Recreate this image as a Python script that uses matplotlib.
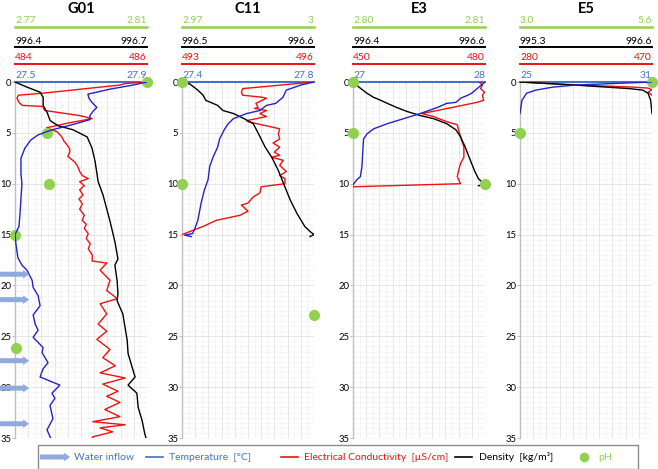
import matplotlib
matplotlib.use('Agg')
import matplotlib.pyplot as plt
import matplotlib.transforms as mtransforms
from matplotlib.patches import FancyArrowPatch, Rectangle
from matplotlib.lines import Line2D
from matplotlib.ticker import MultipleLocator
import numpy as np

plt.rcParams['font.family'] = ['Lato', 'DejaVu Sans']

# ---------------- data ----------------
sites = ['G01', 'C11', 'E3', 'E5']

# G01
g01_ph_range = [2.77, 2.81];      g01_ph_labels = ['2.77', '2.81']
g01_dens_range = [996.4, 996.7];  g01_dens_labels = ['996.4', '996.7']
g01_ec_range = [484, 486];        g01_ec_labels = ['484', '486']
g01_temp_range = [27.5, 27.9];    g01_temp_labels = ['27.5', '27.9']
g01_temp_depth = [0, 0.3, 0.7, 1.2, 1.6, 2.0, 2.5, 2.9, 3.3, 3.7, 4.2, 4.7, 5.2, 5.7, 6.5, 7.5, 9.0, 10.0,
                  11.5, 13.0, 14.2, 15.0, 16.0, 17.3, 18.0, 18.5, 19.5, 20.2, 21.0, 22.0, 22.9, 23.8, 24.4,
                  25.1, 26.1, 26.6, 27.6, 28.2, 29.0, 29.8, 30.6, 31.1, 31.8, 33.1, 34.2, 35.3]
g01_temp = [27.900, 27.858, 27.788, 27.721, 27.724, 27.733, 27.748, 27.736, 27.727, 27.727, 27.673, 27.612,
            27.570, 27.548, 27.530, 27.518, 27.518, 27.521, 27.518, 27.515, 27.512, 27.500, 27.503, 27.509,
            27.521, 27.536, 27.552, 27.555, 27.570, 27.576, 27.555, 27.561, 27.570, 27.555, 27.585, 27.582,
            27.600, 27.585, 27.576, 27.636, 27.612, 27.621, 27.606, 27.615, 27.597, 27.612]
g01_ec_depth = [0, 0.15, 0.3, 1.1, 1.3, 1.6, 2.0, 2.3, 2.4, 2.8, 3.3, 3.6, 4.0, 4.5, 4.9, 5.4, 5.8, 6.2, 6.6,
                6.9, 7.3, 7.9, 8.3, 8.8, 9.2, 9.5, 9.8, 10.2, 10.6, 11.1, 11.5, 12.0, 12.5, 13.1, 13.6, 14.0,
                14.4, 14.9, 15.4, 15.9, 16.4, 17.0, 17.6, 17.8, 18.5, 19.5, 20.5, 21.3, 21.8, 22.8, 23.8,
                24.5, 25.3, 26.3, 27.1, 27.9, 28.6, 29.1, 29.7, 30.4, 30.9, 31.5, 32.2, 32.9, 33.4, 33.7,
                34.0, 34.4, 34.9, 35.3]
g01_ec = [486.00, 485.67, 485.59, 484.42, 484.05, 484.03, 484.06, 484.11, 484.42, 484.45, 484.98, 485.17,
          484.83, 484.48, 484.64, 484.71, 484.74, 484.79, 484.83, 484.83, 484.80, 484.91, 484.95, 484.98,
          485.02, 485.11, 484.98, 485.05, 484.98, 485.03, 484.97, 485.02, 484.98, 485.05, 485.02, 485.08,
          485.05, 485.11, 485.08, 485.14, 485.11, 485.17, 485.17, 485.39, 485.29, 485.44, 485.39, 485.55,
          485.29, 485.39, 485.26, 485.39, 485.24, 485.44, 485.33, 485.52, 485.29, 485.67, 485.33, 485.56,
          485.39, 485.59, 485.36, 485.59, 485.18, 485.67, 485.29, 485.48, 485.17, 485.18]
g01_dens_depth = [0, 0.5, 1.0, 1.5, 2.3, 3.0, 3.8, 4.3, 4.7, 5.4, 6.5, 7.8, 9.8, 11.1, 13.7, 15.7, 17.4,
                  18.0, 19.5, 20.8, 21.5, 22.8, 24.1, 25.4, 26.7, 28.3, 29.0, 29.8, 30.6, 32.0, 33.3, 34.6, 35.3]
g01_dens = [996.400, 996.427, 996.457, 996.464, 996.464, 996.473, 996.480, 996.498, 996.532, 996.564,
            996.575, 996.582, 996.589, 996.600, 996.616, 996.627, 996.634, 996.627, 996.632, 996.634,
            996.632, 996.645, 996.650, 996.655, 996.657, 996.668, 996.673, 996.657, 996.677, 996.680,
            996.689, 996.695, 996.700]
g01_ph_depth = [0, 5, 10, 15, 26.2]
g01_ph = [2.81, 2.7797, 2.7803, 2.77, 2.7703]
g01_inflow_depth = [18.9, 21.4, 27.4, 30.1, 33.6]

# C11
c11_ph_range = [2.97, 3.0];       c11_ph_labels = ['2.97', '3']
c11_dens_range = [996.5, 996.6];  c11_dens_labels = ['996.5', '996.6']
c11_ec_range = [493, 496];        c11_ec_labels = ['493', '496']
c11_temp_range = [27.4, 27.8];    c11_temp_labels = ['27.4', '27.8']
c11_temp_depth = [0, 0.3, 0.8, 1.5, 2.1, 2.3, 2.8, 3.1, 3.6, 4.1, 4.7, 5.6, 6.4, 7.4, 8.3, 9.6, 10.6, 11.9,
                  13.6, 14.5, 14.9, 15.05, 15.2]
c11_temp = [27.800, 27.760, 27.716, 27.706, 27.684, 27.656, 27.636, 27.596, 27.556, 27.540, 27.528, 27.514,
            27.508, 27.494, 27.484, 27.479, 27.468, 27.458, 27.448, 27.438, 27.432, 27.408, 27.428]
c11_ec_depth = [0, 0.65, 1.0, 1.3, 1.5, 1.6, 2.1, 2.5, 2.6, 2.8, 3.1, 3.4, 3.8, 3.9, 4.6, 5.1, 5.6, 6.0, 6.4,
                6.9, 7.2, 7.4, 7.7, 8.2, 8.8, 9.2, 9.5, 10.0, 10.3, 10.9, 11.3, 11.9, 12.1, 12.7, 13.1, 13.6,
                14.2, 15.0]
c11_ec = [496.00, 494.38, 494.35, 494.38, 494.83, 494.92, 494.68, 494.73, 494.65, 494.92, 494.77, 494.92,
          494.47, 494.50, 495.22, 495.19, 495.22, 495.07, 495.22, 495.10, 495.22, 495.04, 495.30, 495.22,
          495.37, 495.22, 495.34, 495.34, 494.80, 494.77, 494.62, 494.50, 494.35, 494.50, 494.32, 493.78,
          493.48, 493.00]
c11_dens_depth = [0, 0.2, 0.8, 1.3, 1.8, 2.3, 2.8, 3.1, 3.6, 4.1, 5.1, 6.4, 7.4, 8.7, 10.0, 11.6, 12.9, 14.2,
                  14.7, 15.0, 15.2]
c11_dens = [996.500, 996.506, 996.512, 996.516, 996.518, 996.527, 996.531, 996.539, 996.547, 996.554,
            996.558, 996.563, 996.568, 996.573, 996.577, 996.582, 996.587, 996.593, 996.597, 996.600, 996.597]
c11_ph_depth = [0, 10, 22.9]
c11_ph = [2.97, 2.97, 3.0]

# E3
e3_ph_range = [2.80, 2.81];       e3_ph_labels = ['2.80', '2.81']
e3_dens_range = [996.4, 996.6];   e3_dens_labels = ['996.4', '996.6']
e3_ec_range = [450, 480];         e3_ec_labels = ['450', '480']
e3_temp_range = [27, 28];         e3_temp_labels = ['27', '28']
e3_temp_depth = [0, 0.65, 1.1, 1.3, 1.6, 2.0, 2.1, 2.5, 3.1, 3.6, 4.1, 4.6, 5.1, 5.6, 6.4, 8.3, 9.3, 9.6, 10.1]
e3_temp = [28.0, 27.94, 27.90, 27.87, 27.815, 27.78, 27.71, 27.64, 27.51, 27.385, 27.26, 27.157, 27.106,
           27.08, 27.076, 27.068, 27.056, 27.03, 27.0]
e3_ec_depth = [0, 0.3, 0.65, 1.0, 1.3, 1.8, 2.0, 2.8, 3.1, 3.4, 3.9, 4.2, 4.7, 5.4, 6.4, 7.4, 8.0, 8.7, 9.3,
               9.6, 10.0, 10.3]
e3_ec = [478.65, 479.4, 479.0, 479.9, 479.4, 479.7, 478.2, 469.2, 465.6, 468.3, 471.3, 473.7, 474.0,
         474.45, 475.2, 475.2, 474.45, 474.0, 473.7, 474.0, 474.45, 450.0]
e3_dens_depth = [0, 0.5, 1.1, 1.5, 1.8, 2.1, 2.5, 2.9, 3.3, 3.6, 4.1, 4.7, 5.4, 6.4, 7.4, 8.7, 9.5, 10.0,
                 10.05, 10.2]
e3_dens = [996.400, 996.409, 996.421, 996.431, 996.442, 996.452, 996.466, 996.482, 996.502, 996.522,
           996.542, 996.556, 996.563, 996.570, 996.576, 996.584, 996.590, 996.598, 996.600, 996.590]
e3_ph_depth = [0, 5, 10]
e3_ph = [2.80, 2.80, 2.81]

# E5
e5_ph_range = [3.0, 5.6];         e5_ph_labels = ['3.0', '5.6']
e5_dens_range = [995.3, 996.6];   e5_dens_labels = ['995.3', '996.6']
e5_ec_range = [280, 470];         e5_ec_labels = ['280', '470']
e5_temp_range = [25, 31];         e5_temp_labels = ['25', '31']
e5_temp_depth = [0, 0.15, 0.3, 0.5, 0.8, 1.1, 1.8, 3.1]
e5_temp = [31.0, 29.2, 27.52, 26.5, 25.72, 25.3, 25.09, 25.0]
e5_ec_depth = [0, 0.1, 0.3, 0.5, 0.6, 0.75, 1.0, 1.3]
e5_ec = [280, 308.5, 365.5, 441.5, 464.3, 470, 464.3, 470]
e5_dens_depth = [0, 0.33, 0.65, 0.8, 1.1, 1.8, 3.1]
e5_dens = [995.3, 995.885, 996.379, 996.509, 996.561, 996.587, 996.6]
e5_ph_depth = [0, 5]
e5_ph = [5.6, 3.0]

depth_ticks = [0, 5, 10, 15, 20, 25, 30, 35]
legend_labels = ['Water inflow', 'Temperature  [°C]', 'Electrical Conductivity  [µS/cm]',
                 'Density  [kg/m³]', 'pH']

panels = [
    dict(temp=(g01_temp_depth, g01_temp, g01_temp_range, g01_temp_labels),
         ec=(g01_ec_depth, g01_ec, g01_ec_range, g01_ec_labels),
         dens=(g01_dens_depth, g01_dens, g01_dens_range, g01_dens_labels),
         ph=(g01_ph_depth, g01_ph, g01_ph_range, g01_ph_labels), inflow=g01_inflow_depth),
    dict(temp=(c11_temp_depth, c11_temp, c11_temp_range, c11_temp_labels),
         ec=(c11_ec_depth, c11_ec, c11_ec_range, c11_ec_labels),
         dens=(c11_dens_depth, c11_dens, c11_dens_range, c11_dens_labels),
         ph=(c11_ph_depth, c11_ph, c11_ph_range, c11_ph_labels), inflow=[]),
    dict(temp=(e3_temp_depth, e3_temp, e3_temp_range, e3_temp_labels),
         ec=(e3_ec_depth, e3_ec, e3_ec_range, e3_ec_labels),
         dens=(e3_dens_depth, e3_dens, e3_dens_range, e3_dens_labels),
         ph=(e3_ph_depth, e3_ph, e3_ph_range, e3_ph_labels), inflow=[]),
    dict(temp=(e5_temp_depth, e5_temp, e5_temp_range, e5_temp_labels),
         ec=(e5_ec_depth, e5_ec, e5_ec_range, e5_ec_labels),
         dens=(e5_dens_depth, e5_dens, e5_dens_range, e5_dens_labels),
         ph=(e5_ph_depth, e5_ph, e5_ph_range, e5_ph_labels), inflow=[]),
]

# ---------------- style ----------------
C_TEMP = '#2323c8'
C_TEMP_LBL = '#4472c4'
C_EC = '#ee1111'
C_DENS = '#000000'
C_PH = '#92d050'
C_ARROW = '#8faadc'

W, H = 658, 469
fig = plt.figure(figsize=(W / 100, H / 100), dpi=100)

def fx(px):
    return px / W

TOP, BOT = 82, 438
AXW = 132
lefts = [15, 182, 353, 520]
axh = BOT - TOP

def yax(py):  # figure pixel row -> axes fraction
    return (BOT - py) / axh

level_ph, level_dens, level_ec = yax(27), yax(47), yax(64)

for i, p in enumerate(panels):
    ax = fig.add_axes([fx(lefts[i]), 1 - BOT / H, fx(AXW), axh / H])
    tdep, tval, trng, tlab = p['temp']
    ax.set_xlim(*trng)
    ax.set_ylim(35, 0)
    ax.set_xticks(np.linspace(trng[0], trng[1], 11))
    ax.set_xticks(np.linspace(trng[0], trng[1], 21), minor=True)
    ax.yaxis.set_minor_locator(MultipleLocator(0.5))
    ax.set_yticks(depth_ticks)
    ax.tick_params(axis='x', which='both', length=0, labelbottom=False, labeltop=False)
    ax.tick_params(axis='y', which='major', length=2, color='#bfbfbf', labelsize=6.8, pad=0.8)
    ax.tick_params(axis='y', which='minor', length=0)
    ax.grid(which='major', color='#e0e0e0', lw=0.6)
    ax.grid(which='minor', color='#f1f1f1', lw=0.5)
    ax.set_axisbelow(True)
    for s in ['right', 'bottom']:
        ax.spines[s].set_visible(False)
    ax.spines['left'].set_color('#bfbfbf')
    ax.spines['left'].set_linewidth(1.0)
    ax.spines['top'].set_color(C_TEMP_LBL)
    ax.spines['top'].set_linewidth(1.5)

    twins = {}
    for key, level, col in [('ec', level_ec, C_EC), ('dens', level_dens, C_DENS), ('ph', level_ph, C_PH)]:
        tw = ax.twiny()
        dep, val, rng, lab = p[key]
        tw.set_xlim(*rng)
        tw.set_xticks([])
        for s in ['left', 'right', 'bottom']:
            tw.spines[s].set_visible(False)
        tw.spines['top'].set_position(('axes', level))
        tw.spines['top'].set_color(col)
        tw.spines['top'].set_linewidth(1.8 if key == 'ph' else 1.4)
        twins[key] = tw
        ax.text(0.0, level + 1.5 / axh, lab[0], transform=ax.transAxes, ha='left', va='bottom',
                fontsize=7.5, color=col)
        ax.text(1.0, level + 1.5 / axh, lab[1], transform=ax.transAxes, ha='right', va='bottom',
                fontsize=7.5, color=col)
    ax.text(0.0, 1 + 1.5 / axh, tlab[0], transform=ax.transAxes, ha='left', va='bottom',
            fontsize=7.5, color=C_TEMP_LBL)
    ax.text(1.0, 1 + 1.5 / axh, tlab[1], transform=ax.transAxes, ha='right', va='bottom',
            fontsize=7.5, color=C_TEMP_LBL)

    ax.text(0.5, yax(9), sites[i], transform=ax.transAxes, ha='center', va='center',
            fontsize=10.5, fontweight='bold')

    # data lines
    twins['dens'].plot(p['dens'][1], p['dens'][0], color=C_DENS, lw=1.0, zorder=3)
    twins['ec'].plot(p['ec'][1], p['ec'][0], color=C_EC, lw=1.0, zorder=3)
    tw_t = ax.twiny()
    tw_t.set_xlim(*trng)
    tw_t.set_xticks([])
    tw_t.axis('off')
    tw_t.plot(tval, tdep, color=C_TEMP, lw=1.0)
    twins['ph'].plot(p['ph'][1], p['ph'][0], 'o', color=C_PH, ms=7, mec=C_PH, clip_on=False, zorder=5)

    # inflow arrows
    if p['inflow']:
        blend = mtransforms.blended_transform_factory(ax.transAxes, ax.transData)
        for d in p['inflow']:
            arr = FancyArrowPatch(((0 - lefts[i]) / AXW, d), ((29 - lefts[i]) / AXW, d), transform=blend,
                                  arrowstyle='simple,head_length=0.42,head_width=0.62,tail_width=0.36',
                                  mutation_scale=10, color=C_ARROW, lw=0, clip_on=False, zorder=10,
                                  shrinkA=0, shrinkB=0)
            tw_t.add_patch(arr)

# ---------------- legend ----------------
LY = 457
def fyp(py):
    return 1 - py / H

fig.add_artist(Rectangle((fx(37.5), fyp(468.5)), fx(638 - 37.5), (468.5 - 445) / H,
                         transform=fig.transFigure, fill=False, ec='#8c8c8c', lw=1.0))
fig.add_artist(FancyArrowPatch((fx(40), fyp(LY)), (fx(70), fyp(LY)), transform=fig.transFigure,
                               arrowstyle='simple,head_length=0.42,head_width=0.62,tail_width=0.36',
                               mutation_scale=10, color=C_ARROW, lw=0, shrinkA=0, shrinkB=0))
fig.text(fx(74), fyp(LY), legend_labels[0], color=C_TEMP_LBL, fontsize=7.5, va='center', ha='left')
fig.add_artist(Line2D([fx(146), fx(163)], [fyp(LY), fyp(LY)], color=C_TEMP_LBL, lw=1.2))
fig.text(fx(169), fyp(LY), legend_labels[1], color=C_TEMP_LBL, fontsize=7.5, va='center', ha='left')
fig.add_artist(Line2D([fx(281), fx(298)], [fyp(LY), fyp(LY)], color=C_EC, lw=1.2))
fig.text(fx(304), fyp(LY), legend_labels[2], color=C_EC, fontsize=7.5, va='center', ha='left')
fig.add_artist(Line2D([fx(455), fx(472)], [fyp(LY), fyp(LY)], color=C_DENS, lw=1.2))
fig.text(fx(479), fyp(LY), legend_labels[3], color=C_DENS, fontsize=7.5, va='center', ha='left')
fig.add_artist(Line2D([fx(584)], [fyp(LY)], marker='o', ms=6, color=C_PH, lw=0))
fig.text(fx(598), fyp(LY), legend_labels[4], color=C_PH, fontsize=7.5, va='center', ha='left')

fig.savefig('out.png', dpi=100)
